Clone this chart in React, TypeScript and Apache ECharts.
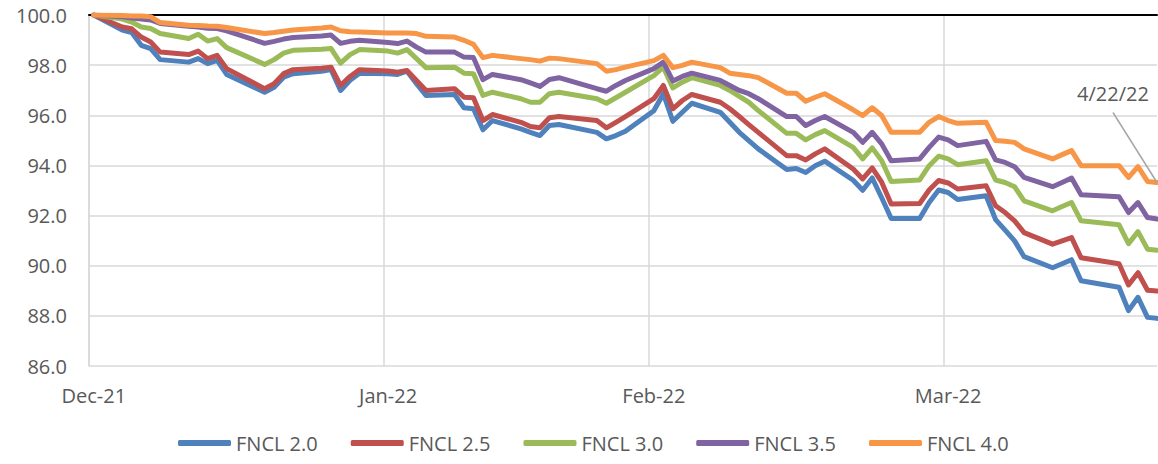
import React, { useEffect, useRef } from "react";
import * as echarts from "echarts";

// Business days (year, month 1-12, day)
const dates: [number, number, number][] = [
  [2021, 12, 31],
  [2022, 1, 3], [2022, 1, 4], [2022, 1, 5], [2022, 1, 6], [2022, 1, 7],
  [2022, 1, 10], [2022, 1, 11], [2022, 1, 12], [2022, 1, 13], [2022, 1, 14],
  [2022, 1, 18], [2022, 1, 19], [2022, 1, 20], [2022, 1, 21],
  [2022, 1, 24], [2022, 1, 25], [2022, 1, 26], [2022, 1, 27], [2022, 1, 28],
  [2022, 1, 31], [2022, 2, 1], [2022, 2, 2], [2022, 2, 3], [2022, 2, 4],
  [2022, 2, 7], [2022, 2, 8], [2022, 2, 9], [2022, 2, 10], [2022, 2, 11],
  [2022, 2, 14], [2022, 2, 15], [2022, 2, 16], [2022, 2, 17], [2022, 2, 18],
  [2022, 2, 22], [2022, 2, 23], [2022, 2, 24], [2022, 2, 25],
  [2022, 2, 28], [2022, 3, 1], [2022, 3, 2], [2022, 3, 3], [2022, 3, 4],
  [2022, 3, 7], [2022, 3, 8], [2022, 3, 9], [2022, 3, 10], [2022, 3, 11],
  [2022, 3, 14], [2022, 3, 15], [2022, 3, 16], [2022, 3, 17], [2022, 3, 18],
  [2022, 3, 21], [2022, 3, 22], [2022, 3, 23], [2022, 3, 24], [2022, 3, 25],
  [2022, 3, 28], [2022, 3, 29], [2022, 3, 30], [2022, 3, 31], [2022, 4, 1],
  [2022, 4, 4], [2022, 4, 5], [2022, 4, 6], [2022, 4, 7], [2022, 4, 8],
  [2022, 4, 11], [2022, 4, 12], [2022, 4, 13], [2022, 4, 14],
  [2022, 4, 18], [2022, 4, 19], [2022, 4, 20], [2022, 4, 21], [2022, 4, 22],
];

const fncl20 = [
  100,
  99.40, 99.30, 98.79, 98.66, 98.22,
  98.12, 98.26, 98.06, 98.19, 97.63,
  96.92, 97.12, 97.52, 97.66,
  97.76, 97.82, 96.99, 97.40, 97.68,
  97.66, 97.63, 97.76, 97.26, 96.79,
  96.83, 96.30, 96.26, 95.42, 95.79,
  95.46, 95.32, 95.19, 95.59, 95.63,
  95.32, 95.06, 95.19, 95.36,
  96.18, 96.86, 95.76, 96.12, 96.48,
  96.12, 95.72, 95.32, 94.99, 94.66,
  93.84, 93.88, 93.72, 93.99, 94.17,
  93.41, 93.01, 93.50, 92.71, 91.88,
  91.88, 92.52, 93.02, 92.92, 92.64,
  92.79, 91.84, 91.42, 90.99, 90.36,
  89.92, 90.08, 90.24, 89.40,
  89.14, 88.21, 88.74, 87.94, 87.90,
];

const fncl25 = [
  100,
  99.52, 99.45, 99.12, 98.92, 98.52,
  98.42, 98.56, 98.26, 98.39, 97.86,
  97.06, 97.26, 97.66, 97.82,
  97.88, 97.92, 97.19, 97.55, 97.82,
  97.77, 97.72, 97.79, 97.39, 96.99,
  97.06, 96.72, 96.70, 95.79, 96.03,
  95.72, 95.55, 95.50, 95.90, 95.95,
  95.79, 95.50, 95.72, 95.95,
  96.66, 97.19, 96.26, 96.59, 96.83,
  96.52, 96.26, 95.95, 95.63, 95.32,
  94.39, 94.39, 94.22, 94.46, 94.66,
  93.86, 93.46, 93.90, 93.33, 92.46,
  92.48, 93.02, 93.40, 93.30, 93.06,
  93.19, 92.39, 92.12, 91.79, 91.32,
  90.86, 90.99, 91.12, 90.32,
  90.08, 89.23, 89.72, 89.02, 88.99,
];

const fncl30 = [
  100,
  99.84, 99.72, 99.52, 99.46, 99.26,
  99.06, 99.23, 98.96, 99.06, 98.70,
  98.03, 98.22, 98.48, 98.59,
  98.63, 98.66, 98.08, 98.42, 98.62,
  98.56, 98.48, 98.62, 98.26, 97.90,
  97.92, 97.68, 97.66, 96.79, 96.92,
  96.66, 96.52, 96.52, 96.86, 96.92,
  96.66, 96.48, 96.70, 96.92,
  97.58, 97.92, 97.09, 97.32, 97.50,
  97.19, 96.99, 96.75, 96.52, 96.19,
  95.28, 95.28, 95.02, 95.23, 95.39,
  94.72, 94.26, 94.70, 94.19, 93.36,
  93.42, 93.99, 94.37, 94.26, 94.03,
  94.19, 93.42, 93.32, 93.15, 92.59,
  92.19, 92.36, 92.52, 91.79,
  91.63, 90.88, 91.36, 90.66, 90.62,
];

const fncl35 = [
  100,
  99.93, 99.88, 99.84, 99.80, 99.66,
  99.55, 99.52, 99.47, 99.46, 99.37,
  98.87, 98.95, 99.04, 99.10,
  99.16, 99.20, 98.87, 98.95, 98.99,
  98.90, 98.86, 98.96, 98.72, 98.52,
  98.52, 98.32, 98.30, 97.42, 97.63,
  97.42, 97.29, 97.15, 97.43, 97.50,
  97.06, 96.96, 97.19, 97.39,
  97.86, 98.12, 97.37, 97.55, 97.68,
  97.39, 97.19, 96.99, 96.86, 96.66,
  95.95, 95.95, 95.59, 95.79, 95.95,
  95.32, 94.92, 95.32, 94.86, 94.19,
  94.26, 94.72, 95.13, 95.02, 94.79,
  94.96, 94.22, 94.12, 93.95, 93.52,
  93.15, 93.32, 93.50, 92.83,
  92.75, 92.12, 92.52, 91.92, 91.86,
];

const fncl40 = [
  100,
  99.98, 99.96, 99.96, 99.93, 99.70,
  99.59, 99.58, 99.56, 99.55, 99.50,
  99.26, 99.30, 99.35, 99.40,
  99.48, 99.52, 99.37, 99.33, 99.32,
  99.28, 99.28, 99.28, 99.26, 99.15,
  99.12, 98.99, 98.83, 98.30, 98.39,
  98.26, 98.22, 98.16, 98.28, 98.26,
  98.06, 97.76, 97.82, 97.92,
  98.18, 98.39, 97.90, 97.99, 98.12,
  97.90, 97.68, 97.63, 97.58, 97.50,
  96.88, 96.88, 96.56, 96.72, 96.86,
  96.22, 95.99, 96.30, 95.99, 95.32,
  95.32, 95.72, 95.95, 95.79, 95.68,
  95.72, 94.99, 94.96, 94.92, 94.66,
  94.26, 94.43, 94.59, 93.99,
  93.99, 93.52, 93.95, 93.36, 93.32,
];

const seriesNames = ["FNCL 2.0", "FNCL 2.5", "FNCL 3.0", "FNCL 3.5", "FNCL 4.0"];
const seriesValues = [fncl20, fncl25, fncl30, fncl35, fncl40];
const seriesColors = ["#4f81bd", "#c0504d", "#9bbb59", "#8064a2", "#f79646"];

const yTicks = [86, 88, 90, 92, 94, 96, 98, 100];
// month-end label dates
const labelDates: [number, number, number][] = [
  [2021, 12, 31], [2022, 1, 31], [2022, 2, 28], [2022, 3, 31],
];
const monthNames = ["Jan", "Feb", "Mar", "Apr", "May", "Jun", "Jul", "Aug", "Sep", "Oct", "Nov", "Dec"];
const annotationText = "4/22/22";

const ts = (d: [number, number, number], h = 0) => new Date(d[0], d[1] - 1, d[2], h).getTime();
const HALF_DAY = 12 * 3600 * 1000;

const FONT = "'Open Sans', sans-serif";
const TEXT_COLOR = "#595959";
const GRID_COLOR = "#d9d9d9";

export default function App() {
  const ref = useRef<HTMLDivElement>(null);

  useEffect(() => {
    if (!ref.current) return;
    const chart = echarts.init(ref.current, undefined, { renderer: "svg" });

    const labelValues = labelDates.map((d) => ts(d));
    const tickValues = labelValues.map((v) => v - HALF_DAY);
    const xMin = tickValues[0];
    const xMax = ts(dates[dates.length - 1]);

    const series = seriesNames.map((name, i) => ({
      name,
      type: "line",
      xAxisIndex: 0,
      yAxisIndex: 0,
      showSymbol: false,
      symbol: "none",
      data: dates.map((d, j) => [ts(d), seriesValues[i][j]]),
      lineStyle: { width: 5, color: seriesColors[i], cap: "round", join: "round" },
      itemStyle: { color: seriesColors[i] },
    }));

    chart.setOption({
      animation: false,
      color: seriesColors,
      textStyle: { fontFamily: FONT },
      grid: { left: 89, right: 1, top: 15, bottom: 98 },
      legend: {
        data: seriesNames,
        left: 178,
        top: 433,
        padding: 0,
        icon: "roundRect",
        itemWidth: 53,
        itemHeight: 6,
        itemGap: 33,
        textStyle: { fontSize: 20, color: TEXT_COLOR, fontFamily: FONT },
      },
      xAxis: [
        {
          type: "value",
          min: xMin,
          max: xMax,
          position: "bottom",
          axisLine: { show: false },
          axisTick: { show: false, customValues: tickValues },
          splitLine: { show: true, lineStyle: { color: GRID_COLOR, width: 1.5 } },
          axisLabel: {
            customValues: labelValues,
            margin: 19,
            fontSize: 20,
            color: TEXT_COLOR,
            fontFamily: FONT,
            formatter: (v: number) => {
              const d = new Date(v);
              return monthNames[d.getMonth()] + "-" + String(d.getFullYear()).slice(2);
            },
          },
        },
        {
          type: "value",
          min: xMin,
          max: xMax,
          position: "top",
          axisLine: { show: true, lineStyle: { color: "#000000", width: 2 } },
          axisTick: { show: false },
          axisLabel: { show: false },
          splitLine: { show: false },
        },
      ],
      yAxis: {
        type: "value",
        min: yTicks[0],
        max: yTicks[yTicks.length - 1],
        interval: 2,
        axisLine: { show: true, lineStyle: { color: GRID_COLOR, width: 1.5 } },
        axisTick: { show: false },
        splitLine: { show: true, lineStyle: { color: GRID_COLOR, width: 1.5 } },
        axisLabel: {
          margin: 22,
          fontSize: 20,
          color: TEXT_COLOR,
          fontFamily: FONT,
          formatter: (v: number) => v.toFixed(1),
        },
      },
      series,
    });

    // Callout for the last date, anchored to the last FNCL 4.0 point via the chart's scales
    const lastIdx = dates.length - 1;
    const end = chart.convertToPixel({ seriesIndex: 4 }, [ts(dates[lastIdx]), fncl40[lastIdx]]) as number[];
    if (end && isFinite(end[0])) {
      const sx = end[0] - 44;
      const sy = end[1] - 70;
      chart.setOption({
        graphic: [
          {
            type: "line",
            shape: { x1: sx, y1: sy, x2: end[0], y2: end[1] },
            style: { stroke: "#a6a6a6", lineWidth: 1.5 },
            z: 10,
          },
          {
            type: "text",
            x: sx,
            y: sy - 19,
            style: {
              text: annotationText,
              fontSize: 20,
              fontFamily: FONT,
              fill: TEXT_COLOR,
              align: "center",
              verticalAlign: "middle",
            },
            z: 10,
          },
        ],
      });
    }

    return () => chart.dispose();
  }, []);

  return (
    <div
      ref={ref}
      style={{ position: "fixed", left: 0, top: 0, width: 1158, height: 464, background: "#ffffff" }}
    />
  );
}
